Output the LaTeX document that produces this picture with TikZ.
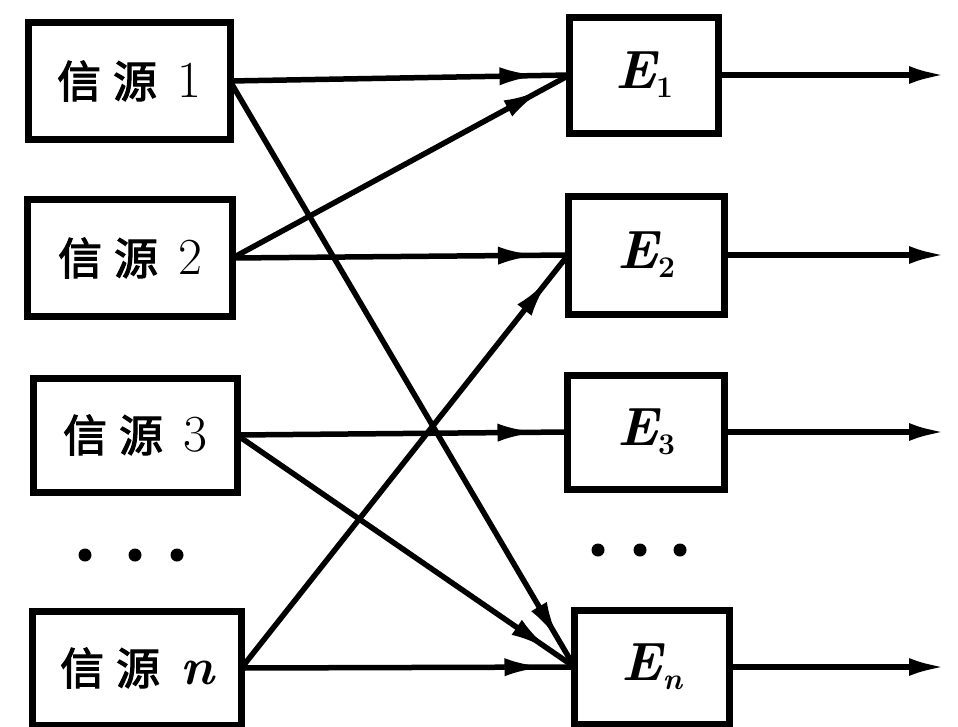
\documentclass[tikz,border=0pt]{standalone}
\usepackage{fontspec}
\newfontfamily\cjk[AutoFakeBold=2.5]{Noto Sans CJK SC}
\usetikzlibrary{arrows.meta,decorations.markings}
\newcommand\dgfont{\fontsize{52}{58}\selectfont}
\newcommand\srclabel[1]{{\cjk\bfseries 信\hspace{12pt}源}\hspace{20pt}{\dgfont #1}}
\newcommand\elabel[1]{{\fontsize{54}{60}\selectfont\bfseries\itshape E}\raisebox{-9pt}{\fontsize{30}{32}\selectfont\bfseries #1}}
\begin{document}
\begin{tikzpicture}[x=1pt,y=-1pt,
  srcbox/.style={draw, line width=7pt, inner sep=0pt, outer sep=0pt,
    font=\fontsize{44}{50}\selectfont},
  ebox/.style={draw, line width=7pt, inner sep=0pt, outer sep=0pt},
  conn/.style={line width=5.5pt, postaction={decorate},
    decoration={markings, mark=at position -30pt with {\arrow{Latex[length=40pt,width=18pt]}}}},
  outarrow/.style={line width=5.5pt, -{Latex[length=36pt,width=18pt]}},
  dotnode/.style={circle, fill, inner sep=0pt, minimum size=13pt}
]
\useasboundingbox (0,0) rectangle (958,726);
\fill[white] (0,0) rectangle (958,726);

% sources
\node[srcbox, minimum width=202pt, minimum height=117pt] (S1) at (129,81) {\srclabel{1}};
\node[srcbox, minimum width=205pt, minimum height=117pt] (S2) at (130,258) {\srclabel{2}};
\node[srcbox, minimum width=204pt, minimum height=114pt] (S3) at (135,435) {\srclabel{3}};
\node[srcbox, minimum width=209pt, minimum height=114pt] (Sn) at (137,668) {\srclabel{\itshape\bfseries n}};

% encoders
\node[ebox, minimum width=149pt, minimum height=116pt] (E1) at (644,75) {\elabel{1}};
\node[ebox, minimum width=156pt, minimum height=118pt] (E2) at (646,255) {\elabel{2}};
\node[ebox, minimum width=157pt, minimum height=114pt] (E3) at (646,432) {\elabel{3}};
\node[ebox, minimum width=155pt, minimum height=114pt] (En) at (652,667) {\elabel{\itshape n}};

% dots
\node[dotnode] (ld1) at (85,555) {};
\node[dotnode] (ld2) at (135,555) {};
\node[dotnode] (ld3) at (177,555) {};
\node[dotnode] (rd1) at (598,550) {};
\node[dotnode] (rd2) at (640,550) {};
\node[dotnode] (rd3) at (680,550) {};

% outputs
\coordinate (o1) at (945,75);
\coordinate (o2) at (945,255);
\coordinate (o3) at (945,432);
\coordinate (on) at (945,667);

% connectors
\draw[conn] (S1.east) -- (E1.west);
\draw[conn] (S1.east) -- (En.west);
\draw[conn] (S2.east) -- (E1.west);
\draw[conn] (S2.east) -- (E2.west);
\draw[conn] (S3.east) -- (E3.west);
\draw[conn] (S3.east) -- (En.west);
\draw[conn] (Sn.east) -- (E2.west);
\draw[conn] (Sn.east) -- (En.west);

\draw[outarrow] (E1.east) -- (o1);
\draw[outarrow] (E2.east) -- (o2);
\draw[outarrow] (E3.east) -- (o3);
\draw[outarrow] (En.east) -- (on);
\end{tikzpicture}
\end{document}
